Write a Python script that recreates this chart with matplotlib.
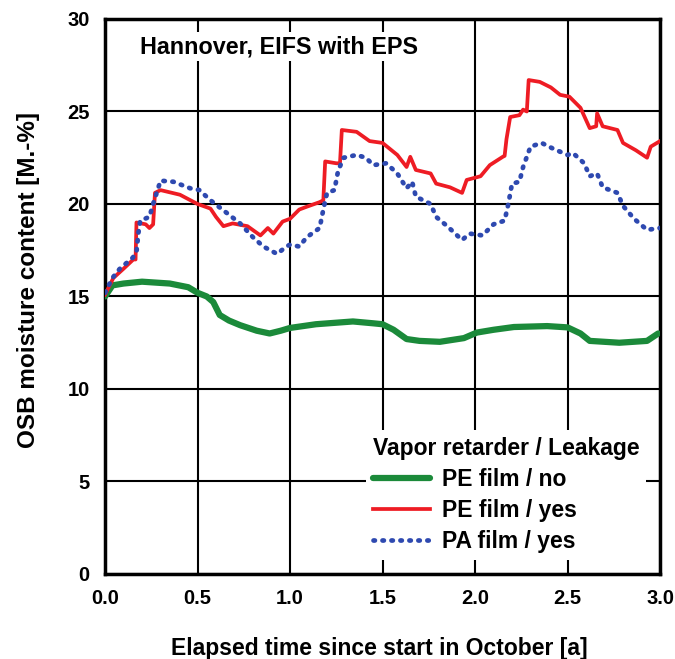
import numpy as np
import matplotlib.pyplot as plt

plt.rcParams["font.family"] = ["Liberation Sans", "DejaVu Sans"]
plt.rcParams["font.weight"] = "bold"

# -----------------------------
# Data
# -----------------------------
x_green = [0.0, 0.04, 0.1, 0.2, 0.35, 0.45, 0.5, 0.55, 0.585, 0.62, 0.67, 0.73, 0.82,
           0.89, 0.95, 1.0, 1.14, 1.34, 1.45, 1.5, 1.56, 1.63, 1.7, 1.81, 1.94, 2.01,
           2.1, 2.21, 2.39, 2.5, 2.57, 2.62, 2.7, 2.78, 2.93, 2.99]
y_green = [15.0, 15.6, 15.7, 15.8, 15.7, 15.5, 15.2, 15.0, 14.7, 14.0, 13.7, 13.45, 13.15,
           13.0, 13.15, 13.3, 13.5, 13.65, 13.55, 13.5, 13.2, 12.7, 12.6, 12.55, 12.75, 13.05,
           13.2, 13.35, 13.4, 13.33, 13.0, 12.6, 12.55, 12.5, 12.6, 13.0]

x_red = [0.0, 0.045, 0.1, 0.153, 0.165, 0.17, 0.22, 0.24, 0.26, 0.27, 0.3, 0.405, 0.5,
         0.57, 0.6, 0.64, 0.69, 0.77, 0.84, 0.88, 0.91, 0.96, 1.0, 1.05, 1.09, 1.16,
         1.18, 1.19, 1.25, 1.27, 1.28, 1.36, 1.43, 1.5, 1.58, 1.63, 1.65, 1.68, 1.76,
         1.79, 1.865, 1.93, 1.955, 2.03, 2.08, 2.15, 2.16, 2.17, 2.19, 2.24, 2.26, 2.28,
         2.29, 2.35, 2.41, 2.46, 2.51, 2.57, 2.62, 2.655, 2.66, 2.69, 2.77, 2.80, 2.87,
         2.93, 2.95, 3.0]
y_red = [15.1, 16.0, 16.5, 17.0, 17.0, 19.0, 18.9, 18.7, 18.9, 20.6, 20.75, 20.5, 20.0,
         19.75, 19.3, 18.8, 18.95, 18.8, 18.3, 18.7, 18.4, 19.05, 19.2, 19.7, 19.85, 20.1,
         20.2, 22.3, 22.2, 22.2, 24.0, 23.9, 23.4, 23.3, 22.65, 22.0, 22.55, 21.84, 21.65,
         21.1, 20.9, 20.6, 21.3, 21.5, 22.1, 22.55, 22.6, 23.5, 24.7, 24.8, 25.1, 25.0,
         26.7, 26.6, 26.3, 25.9, 25.8, 25.2, 24.1, 24.2, 24.9, 24.2, 24.0, 23.3, 22.9,
         22.5, 23.1, 23.4]

x_blue = [0.0, 0.04, 0.08, 0.15, 0.17, 0.18, 0.19, 0.24, 0.26, 0.3, 0.37, 0.46, 0.51,
          0.57, 0.66, 0.73, 0.80, 0.856, 0.93, 0.98, 1.0, 1.05, 1.09, 1.16, 1.18, 1.20,
          1.24, 1.26, 1.29, 1.36, 1.41, 1.45, 1.52, 1.58, 1.63, 1.66, 1.68, 1.76, 1.79,
          1.85, 1.93, 1.97, 2.04, 2.1, 2.16, 2.18, 2.2, 2.24, 2.26, 2.30, 2.36, 2.42,
          2.50, 2.53, 2.59, 2.62, 2.66, 2.69, 2.77, 2.80, 2.86, 2.93, 3.0]
y_blue = [15.2, 16.0, 16.5, 17.1, 17.4, 18.4, 19.1, 19.3, 20.0, 21.26, 21.2, 20.85, 20.75,
          20.2, 19.5, 18.95, 18.2, 17.7, 17.3, 17.7, 17.8, 17.7, 18.2, 18.7, 19.7, 20.6,
          20.75, 21.8, 22.5, 22.65, 22.5, 22.1, 22.2, 21.65, 20.85, 21.2, 20.4, 20.0, 19.3,
          18.8, 18.05, 18.4, 18.3, 18.9, 19.1, 20.0, 21.1, 21.2, 22.0, 23.1, 23.3, 23.0,
          22.65, 22.75, 22.2, 21.5, 21.65, 20.9, 20.6, 19.9, 19.2, 18.6, 18.7]

x_ticks = [0.0, 0.5, 1.0, 1.5, 2.0, 2.5, 3.0]
y_ticks = [0, 5, 10, 15, 20, 25, 30]

# -----------------------------
# Plot
# -----------------------------
fig = plt.figure(figsize=(6.75, 6.59), dpi=100)
ax = fig.add_axes([0.1556, 0.129, 0.8222, 0.8422])

ax.plot(x_green, y_green, color="#1b8a3a", lw=4.5, solid_capstyle="round",
        label="PE film / no", zorder=3)
ax.plot(x_red, y_red, color="#ee1c24", lw=2.7, label="PE film / yes", zorder=4)
ax.plot(x_blue, y_blue, color="#2e49b0", lw=3.4, linestyle=(0, (0.3, 1.6)),
        dash_capstyle="round", label="PA film / yes", zorder=5)

ax.set_xlim(0, 3)
ax.set_ylim(0, 30)
ax.set_xticks(x_ticks)
ax.set_yticks(y_ticks)
ax.set_xticklabels([f"{v:.1f}" for v in x_ticks])
ax.tick_params(direction="in", length=0, labelsize=14.5, pad=11)
ax.grid(True, color="black", lw=1.5)
ax.set_axisbelow(True)
for s in ax.spines.values():
    s.set_linewidth(2.5)

ax.set_xlabel("Elapsed time since start in October [a]", fontsize=16.5,
              fontweight="bold")
ax.xaxis.set_label_coords(0.494, -0.113)
ax.set_ylabel("OSB moisture content [M.-%]", fontsize=17.5, fontweight="bold")
ax.yaxis.set_label_coords(-0.118, 0.53)

ax.text(0.063, 0.95, "Hannover, EIFS with EPS", transform=ax.transAxes,
        fontsize=16.8, fontweight="bold", va="center", ha="left",
        bbox=dict(facecolor="white", edgecolor="none", pad=2))

leg = ax.legend(loc="lower right", title="Vapor retarder / Leakage",
                frameon=True, fancybox=False, handlelength=2.5,
                handletextpad=0.52, alignment="left",
                prop={"size": 16.5, "weight": "bold"},
                title_fontproperties={"size": 16.5, "weight": "bold"},
                borderaxespad=0.6, borderpad=0.3, labelspacing=0.35)
leg.get_frame().set_edgecolor("none")
leg.get_frame().set_facecolor("white")
leg.get_frame().set_alpha(1.0)

plt.savefig("out.png", dpi=100)
